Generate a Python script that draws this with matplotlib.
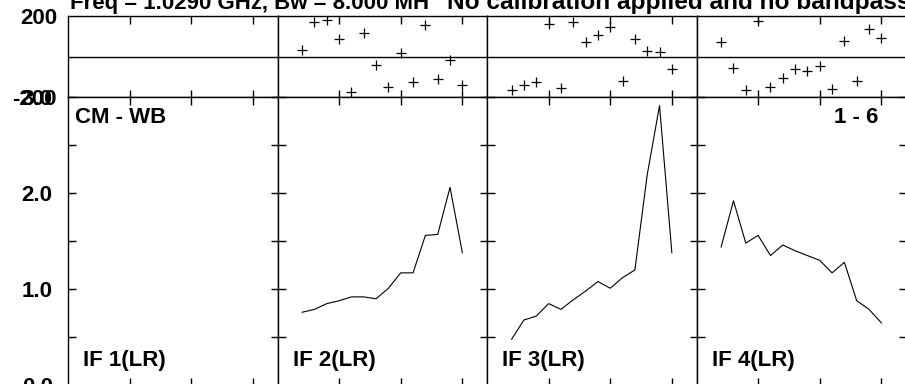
#!/usr/bin/env python3
from __future__ import annotations

import matplotlib

matplotlib.use("Agg")
import matplotlib.pyplot as plt

# ---- chart data ----
TITLE_LEFT = "Freq = 1.0290 GHz, Bw = 8.000 MH"
TITLE_RIGHT = "No calibration applied and no bandpass applied"
SOURCE_LABEL = "CM - WB"
BASELINE_LABEL = "1 - 6"
IF_LABELS = ["IF 1(LR)", "IF 2(LR)", "IF 3(LR)", "IF 4(LR)"]

CHANNELS = [2, 3, 4, 5, 6, 7, 8, 9, 10, 11, 12, 13, 14, 15]
X_TICKS = [5, 10, 15]
PHASE_TICKS = [-200, 200]
AMP_TICKS = [0.0, 0.5, 1.0, 1.5, 2.0, 2.5, 3.0]
AMP_TICK_LABELS = ["0.0", "", "1.0", "", "2.0", "", "3.0"]

# IF 1 has no data
PHASE_IF2 = [30, 171, 178, 87, -173, 118, -44, -151, 16, -128, 156, -110, -18, -143]
PHASE_IF3 = [-165, -140, -125, 161, -158, 168, 72, 105, 148, -123, 87, 28, 20, -63]
PHASE_IF4 = [74, -58, -165, 176, -151, -105, -63, -74, -49, -160, 76, -123, 135, 91]

AMP_IF2 = [0.76, 0.79, 0.85, 0.88, 0.92, 0.92, 0.90, 1.01, 1.17, 1.17, 1.56, 1.57, 2.06, 1.38]
AMP_IF3 = [0.48, 0.68, 0.72, 0.85, 0.79, 0.89, 0.98, 1.08, 1.01, 1.12, 1.20, 2.19, 2.91, 1.38]
AMP_IF4 = [1.44, 1.92, 1.48, 1.56, 1.35, 1.46, 1.40, 1.35, 1.30, 1.17, 1.28, 0.88, 0.79, 0.65]

PHASES = [None, PHASE_IF2, PHASE_IF3, PHASE_IF4]
AMPS = [None, AMP_IF2, AMP_IF3, AMP_IF4]

W, H = 905, 384
FONT = "Liberation Sans"


def px_axes(fig, x0: float, y0: float, x1: float, y1: float):
    # pixel box (top-left origin) -> figure axes
    return fig.add_axes([x0 / W, 1 - y1 / H, (x1 - x0) / W, (y1 - y0) / H])


def style_axes(ax) -> None:
    for s in ax.spines.values():
        s.set_linewidth(1.0)
        s.set_color("black")
    ax.tick_params(
        axis="both", which="both", direction="in", length=5.4, width=1.0,
        top=True, bottom=True, left=True, right=True,
        labelbottom=False, labeltop=False, labelright=False,
        labelsize=16, pad=8,
    )
    for lab in ax.get_yticklabels():
        lab.set_fontweight("bold")
        lab.set_fontfamily(FONT)


def main() -> int:
    fig = plt.figure(figsize=(W / 100, H / 100), dpi=100)

    left0 = 68.0
    pw = 209.5
    ph_top, ph_bot = 16.0, 97.0
    amp_bot = 385.3

    for i in range(4):
        x0 = left0 + i * pw
        x1 = x0 + pw

        # ---- phase panel ----
        axp = px_axes(fig, x0, ph_top, x1, ph_bot)
        axp.set_xlim(0, 17)
        axp.set_ylim(-200, 200)
        axp.set_xticks(X_TICKS)
        axp.set_yticks(PHASE_TICKS)
        axp.axhline(0, color="black", lw=1.0)
        if PHASES[i] is not None:
            axp.plot(CHANNELS, PHASES[i], ls="none", marker="+", ms=6.5, mew=0.9, color="black")
        if i == 0:
            axp.set_yticklabels(["-200", "200"])
        else:
            axp.set_yticklabels([])
        style_axes(axp)
        axp.tick_params(axis="y", length=0, labelleft=(i == 0))

        # ---- amplitude panel ----
        axa = px_axes(fig, x0, ph_bot, x1, amp_bot)
        axa.set_xlim(0, 17)
        axa.set_ylim(0, 3.0)
        axa.set_xticks(X_TICKS)
        axa.set_yticks(AMP_TICKS)
        if i == 0:
            axa.set_yticklabels(AMP_TICK_LABELS)
        else:
            axa.set_yticklabels([])
        if AMPS[i] is not None:
            axa.plot(CHANNELS, AMPS[i], color="black", lw=0.8)
        style_axes(axa)
        axa.tick_params(axis="y", labelleft=(i == 0), pad=11)

        axa.text(15 / pw, 0.067, IF_LABELS[i], transform=axa.transAxes,
                 fontsize=16, fontweight="bold", family=FONT, va="baseline", ha="left")
        if i == 0:
            axa.text(7 / pw, 1 - 26 / (amp_bot - ph_bot), SOURCE_LABEL, transform=axa.transAxes,
                     fontsize=16, fontweight="bold", family=FONT, va="baseline", ha="left")
        if i == 3:
            axa.text(1 - 28 / pw, 1 - 26 / (amp_bot - ph_bot), BASELINE_LABEL, transform=axa.transAxes,
                     fontsize=16, fontweight="bold", family=FONT, va="baseline", ha="right")

    # title runs off the top/right edge as in the original plot
    fig.text(70 / W, 1 - 9.5 / H, TITLE_LEFT, fontsize=16, fontweight="bold",
             family=FONT, va="baseline", ha="left")
    fig.text(447 / W, 1 - 9.5 / H, TITLE_RIGHT, fontsize=17.6, fontweight="bold",
             family=FONT, va="baseline", ha="left")

    fig.savefig("out.png", dpi=100)
    plt.close(fig)
    return 0


if __name__ == "__main__":
    raise SystemExit(main())
